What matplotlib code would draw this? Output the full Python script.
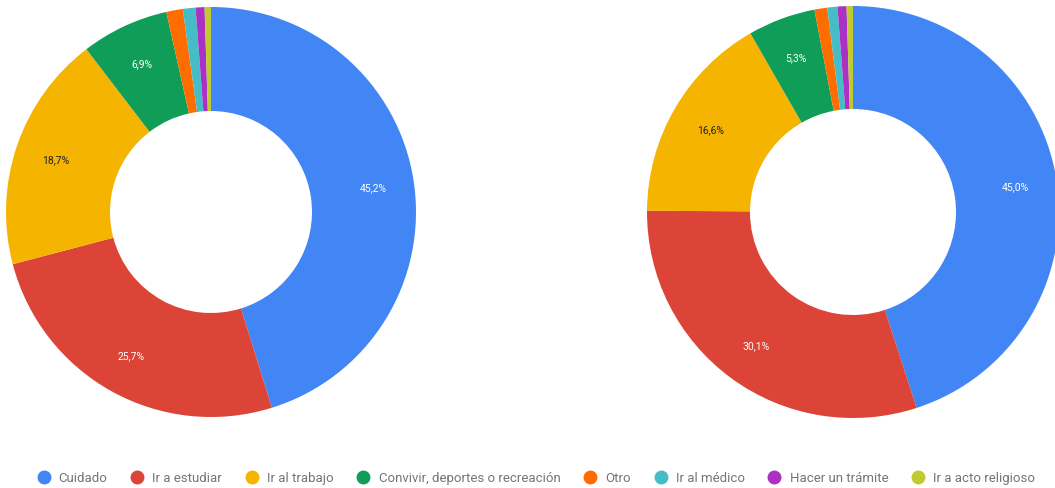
import numpy as np
from matplotlib import pyplot as plt
from matplotlib.lines import Line2D

plt.rcParams['font.family'] = ['Roboto', 'DejaVu Sans']

categories = ['Cuidado', 'Ir a estudiar', 'Ir al trabajo',
              'Convivir, deportes o recreación', 'Otro', 'Ir al médico',
              'Hacer un trámite', 'Ir a acto religioso']
left_values = [45.2, 25.7, 18.7, 6.9, 1.3, 1.0, 0.7, 0.5]
right_values = [45.0, 30.1, 16.6, 5.3, 1.0, 0.8, 0.7, 0.5]

colors = ['#4285F4', '#DB4437', '#F4B400', '#0F9D58',
          '#FF6D01', '#46BDC6', '#AB30C4', '#C0CA33']
label_colors = ['white', 'white', '#222222', 'white',
                'white', 'white', 'white', 'white']

W, H = 1055, 489
fig = plt.figure(figsize=(W / 100, H / 100), dpi=100)


def donut(cx, cy, r_out, r_in, values):
    # axes placed in pixel coords so the ring lands where it should
    ax = fig.add_axes([(cx - r_out) / W, (H - cy - r_out) / H,
                       2 * r_out / W, 2 * r_out / H])
    wedges, _ = ax.pie(values, colors=colors, startangle=90,
                       counterclock=False, radius=1,
                       wedgeprops=dict(width=(r_out - r_in) / r_out,
                                       linewidth=0))
    ax.set_xlim(-1, 1)
    ax.set_ylim(-1, 1)
    ax.set_aspect('auto')
    ax.axis('off')
    for w, v, c in zip(wedges, values, label_colors):
        if v < 5:
            continue
        ang = np.deg2rad((w.theta1 + w.theta2) / 2)
        r = 0.8
        ax.text(r * np.cos(ang), r * np.sin(ang),
                '{:.1f}%'.format(v).replace('.', ','),
                ha='center', va='center', fontsize=7.5, color=c)
    return ax


donut(211, 213, 205, 101, left_values)
donut(853, 213, 206, 103, right_values)

handles = [Line2D([0], [0], marker='o', linestyle='', markersize=9,
                  markerfacecolor=c, markeredgecolor=c) for c in colors]
fig.legend(handles, categories, loc='center', bbox_to_anchor=(536 / W, 1 - 479 / H),
           ncol=8, frameon=False, fontsize=9.5, labelcolor='#757575',
           handletextpad=0.65, columnspacing=1.75, handlelength=1.0,
           borderpad=0, borderaxespad=0)

fig.savefig('out.png', dpi=100)
